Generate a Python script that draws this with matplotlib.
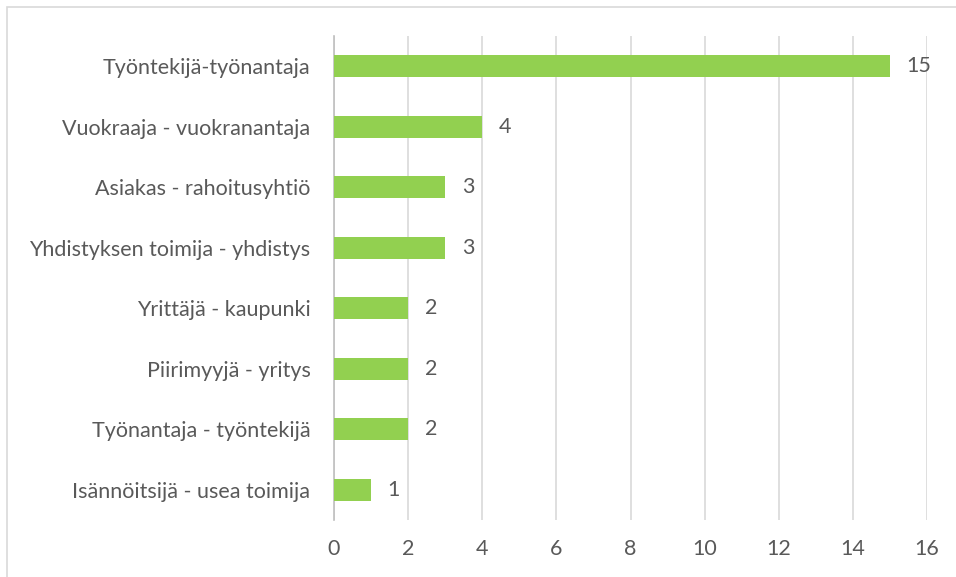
import matplotlib.pyplot as plt
from matplotlib.patches import Rectangle

# Data
categories = [
    "Työntekijä-työnantaja",
    "Vuokraaja - vuokranantaja",
    "Asiakas - rahoitusyhtiö",
    "Yhdistyksen toimija - yhdistys",
    "Yrittäjä - kaupunki",
    "Piirimyyjä - yritys",
    "Työnantaja - työntekijä",
    "Isännöitsijä - usea toimija",
]
values = [15, 4, 3, 3, 2, 2, 2, 1]
xticks = [0, 2, 4, 6, 8, 10, 12, 14, 16]

text_color = "#595959"
grid_color = "#D9D9D9"
bar_color = "#92D050"
fs = 15.5

plt.rcParams['font.family'] = ['Lato', 'DejaVu Sans']

fig = plt.figure(figsize=(9.56, 5.77), dpi=100)
ax = fig.add_axes([334 / 956, 1 - 520 / 577, (927 - 334) / 956, (520 - 36) / 577])

# outer chart frame
fig.patches.append(Rectangle((7 / 956, -0.1), 1.2, (1 - 7 / 577) + 0.1,
                             transform=fig.transFigure, fill=False,
                             edgecolor=grid_color, linewidth=1.2))

y = list(range(len(categories)))
ax.barh(y, values, height=0.36, color=bar_color, zorder=3)

for yi, v in zip(y, values):
    ax.text(v + 0.45, yi, str(v), va="center", ha="left",
            fontsize=fs, color=text_color)

ax.set_xlim(0, 16)
ax.set_ylim(len(categories) - 0.5, -0.5)
ax.set_xticks(xticks)
ax.set_yticks(y)
ax.set_yticklabels(categories)
ax.xaxis.grid(True, color=grid_color, linewidth=1.2, zorder=0)
ax.tick_params(axis="both", length=0, labelsize=fs, labelcolor=text_color)
ax.tick_params(axis="x", pad=14)
ax.tick_params(axis="y", pad=17)

for s in ["top", "right", "bottom"]:
    ax.spines[s].set_visible(False)
ax.spines["left"].set_color("#BFBFBF")
ax.spines["left"].set_linewidth(1.2)

fig.savefig("out.png", dpi=100)
